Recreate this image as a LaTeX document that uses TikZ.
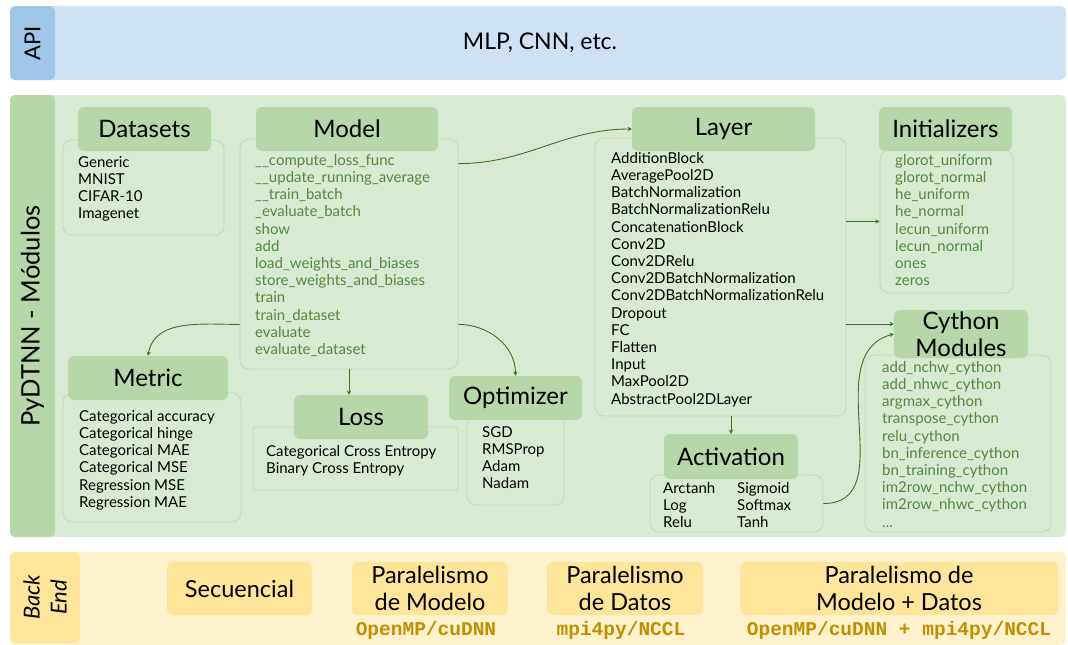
\documentclass[tikz,border=0pt]{standalone}
\usepackage{fontspec}
\setmainfont{Lato}
\setmonofont{Liberation Mono}
\usetikzlibrary{positioning,calc}

\definecolor{apiband}{HTML}{CFE2F3}
\definecolor{apitab}{HTML}{9FC5E8}
\definecolor{modband}{HTML}{D9EAD3}
\definecolor{modtab}{HTML}{B6D7A8}
\definecolor{modline}{HTML}{BCDBAF}
\definecolor{modarrow}{HTML}{38761D}
\definecolor{modtext}{HTML}{548A3C}
\definecolor{beband}{HTML}{FFF2CC}
\definecolor{betab}{HTML}{FFE599}
\definecolor{betext}{HTML}{BF9000}

\begin{document}
\begin{tikzpicture}[
        x=1pt,y=-1pt,
        band/.style={rounded corners=5pt,inner sep=0pt},
        tabname/.style={rotate=90,font=\fontsize{22}{25}\selectfont},
        body/.style={draw=modline,line width=0.8pt,rounded corners=9pt,inner sep=0pt},
        title/.style={fill=modtab,rounded corners=6pt,inner sep=0pt,font=\fontsize{24}{27}\selectfont,align=center},
        items/.style={anchor=north west,inner sep=0pt,align=left,font=\fontsize{15}{17.2}\selectfont},
        method/.style={items,text=modtext},
        link/.style={draw=modarrow,line width=0.9pt,->,>=stealth},
        bebox/.style={fill=betab,rounded corners=6pt,inner sep=0pt,align=center,font=\fontsize{23.5}{26.5}\selectfont},
        beimpl/.style={inner sep=0pt,text=betext,font=\ttfamily\bfseries\fontsize{19.5}{21}\selectfont}
    ]
    \useasboundingbox (0,0) rectangle (1068,645);

    % API
    \node (apiband) [band,fill=apiband,minimum width=1056,minimum height=74] at (538,43) {};
    \node (apitab)  [band,fill=apitab,minimum width=45,minimum height=74]    at (32.5,43) {};
    \node (apiname) [tabname] at (apitab) {API};
    \node (apitext) [font=\fontsize{23}{25}\selectfont] at (540,43) {MLP, CNN, etc.};

    % modulos
    \node (modband) [band,fill=modband,minimum width=1056,minimum height=442] at (538,316) {};
    \node (modtab)  [band,fill=modtab,minimum width=45,minimum height=442]    at (32.5,316) {};
    \node (modname) [tabname,font=\fontsize{25.5}{28}\selectfont] at (modtab) {PyDTNN - Módulos};

    \node (dsbody)   [body,minimum width=161,minimum height=95]  at (143.5,187.5) {};
    \node (dstitle)  [title,minimum width=133,minimum height=44] at (144.5,129)   {Datasets};
    \node (dslist)   [items] at (78,156) {Generic\\MNIST\\CIFAR-10\\Imagenet};

    \node (modelbody)  [body,minimum width=218,minimum height=230] at (349,254) {};
    \node (modeltitle) [title,minimum width=182,minimum height=44] at (347,129) {Model};
    \node (modellist)  [method] at (255,154) {\_\_compute\_loss\_func\\\_\_update\_running\_average\\\_\_train\_batch\\\_evaluate\_batch\\show\\add\\load\_weights\_and\_biases\\store\_weights\_and\_biases\\train\\train\_dataset\\evaluate\\evaluate\_dataset};

    \node (layerbody)  [body,minimum width=251,minimum height=278] at (720.5,277) {};
    \node (layertitle) [title,minimum width=183,minimum height=44] at (723.5,129) {Layer};
    \node (layerlist)  [items] at (611,152) {AdditionBlock\\AveragePool2D\\BatchNormalization\\BatchNormalizationRelu\\ConcatenationBlock\\Conv2D\\Conv2DRelu\\Conv2DBatchNormalization\\Conv2DBatchNormalizationRelu\\Dropout\\FC\\Flatten\\Input\\MaxPool2D\\AbstractPool2DLayer};

    \node (initbody)  [body,minimum width=133,minimum height=143] at (946.5,221.5) {};
    \node (inittitle) [title,minimum width=133,minimum height=44] at (945.5,129)   {Initializers};
    \node (initlist)  [method] at (895,154) {glorot\_uniform\\glorot\_normal\\he\_uniform\\he\_normal\\lecun\_uniform\\lecun\_normal\\ones\\zeros};

    \node (cybody)  [body,minimum width=186,minimum height=177] at (958,443.5) {};
    \node (cytitle) [title,minimum width=134,minimum height=48] at (961,334)   {Cython\\Modules};
    \node (cylist)  [method] at (882,361) {add\_nchw\_cython\\add\_nhwc\_cython\\argmax\_cython\\transpose\_cython\\relu\_cython\\bn\_inference\_cython\\bn\_training\_cython\\im2row\_nchw\_cython\\im2row\_nhwc\_cython\\...};

    \node (metricbody)  [body,minimum width=178,minimum height=129] at (152,457.5) {};
    \node (metrictitle) [title,minimum width=160,minimum height=44] at (148,378)   {Metric};
    \node (metriclist)  [items] at (79,410) {Categorical accuracy\\Categorical hinge\\Categorical MAE\\Categorical MSE\\Regression MSE\\Regression MAE};

    \node (lossbody)  [body,rounded corners=3pt,minimum width=205,minimum height=63] at (355.5,458.5) {};
    \node (losstitle) [title,minimum width=134,minimum height=44] at (361,417)     {Loss};
    \node (losslist)  [items] at (266,445) {Categorical Cross Entropy\\Binary Cross Entropy};

    \node (optbody)  [body,minimum width=97,minimum height=90]  at (515.5,460) {};
    \node (opttitle) [title,minimum width=133,minimum height=44] at (515.5,398) {Optimizer};
    \node (optlist)  [items] at (482,426) {SGD\\RMSProp\\Adam\\Nadam};

    \node (acbody)  [body,minimum width=173,minimum height=57] at (736.5,503.5) {};
    \node (actitle) [title,minimum width=134,minimum height=45] at (731,456.5)   {Activation};
    \node (aclist1) [items] at (663,482) {Arctanh\\Log\\Relu};
    \node (aclist2) [items] at (737,482) {Sigmoid\\Softmax\\Tanh};

    \draw [link] ([yshift=-25pt]modelbody.north east) to[out=0,in=180] (layertitle.west);
    \draw [link] ([yshift=45pt]modelbody.south west) to[out=180,in=80] (metrictitle.north);
    \draw [link] (modelbody.south) -- (modelbody.south |- losstitle.north);
    \draw [link] ([yshift=45pt]modelbody.south east) to[out=0,in=90] (opttitle.north);
    \draw [link] (initbody.west -| layerbody.east) -- (initbody.west);
    \draw [link] ([yshift=10pt]cytitle.west -| layerbody.east) -- ([yshift=10pt]cytitle.west);
    \draw [link] (actitle.north |- layerbody.south) -- (actitle.north);
    \draw [link] (acbody.east) to[out=0,in=195,looseness=1.1] (cytitle.west);

    % back end
    \node (beband) [band,fill=beband,minimum width=1056,minimum height=93] at (538,598.5) {};
    \node (betab)  [band,fill=betab,minimum width=70,minimum height=91]    at (45,597.5) {};
    \node (bename) [tabname,align=center,font=\itshape\fontsize{22}{27}\selectfont] at (betab) {Back\\End};

    \node (secbox)  [bebox,minimum width=145,minimum height=53] at (239.5,588.5) {Secuencial};
    \node (modpbox) [bebox,minimum width=156,minimum height=53] at (430,588.5)   {Paralelismo\\de Modelo};
    \node (datpbox) [bebox,minimum width=156,minimum height=53] at (625,588.5)   {Paralelismo\\de Datos};
    \node (allpbox) [bebox,minimum width=318,minimum height=53] at (899,588.5)   {Paralelismo de\\Modelo + Datos};
    \node (modpimpl) [beimpl] at (426,630) {OpenMP/cuDNN};
    \node (datpimpl) [beimpl] at (621,630) {mpi4py/NCCL};
    \node (allpimpl) [beimpl] at (899,630) {OpenMP/cuDNN + mpi4py/NCCL};
\end{tikzpicture}
\end{document}
